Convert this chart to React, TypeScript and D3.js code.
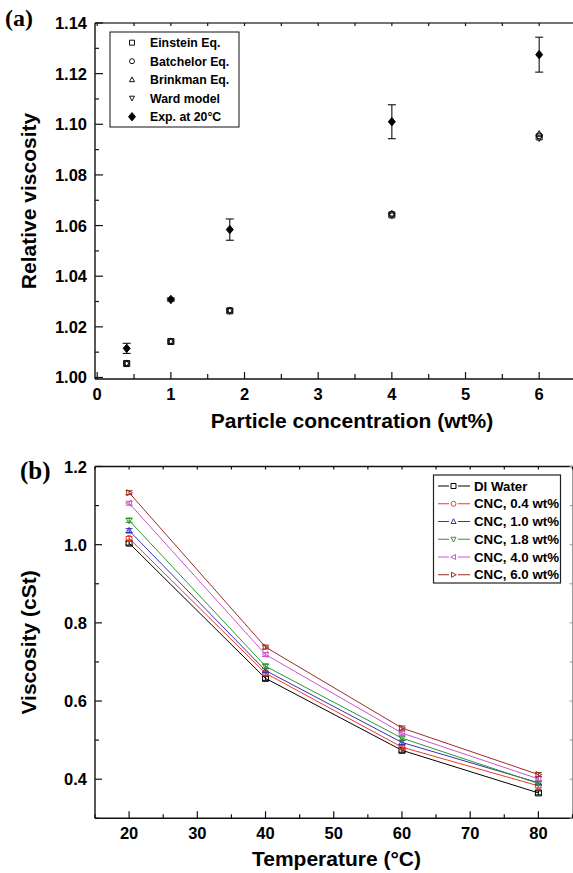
import React from "react";
import * as d3 from "d3";

// ---------- Panel (a) data ----------
const concentrations = [0.4, 1, 1.8, 4, 6];
const einsteinEq = [1.0055, 1.0142, 1.0263, 1.0642, 1.095];
const batchelorEq = [1.0056, 1.0143, 1.0265, 1.0645, 1.0955];
const brinkmanEq = [1.0056, 1.0143, 1.0265, 1.0647, 1.0962];
const wardModel = [1.0055, 1.0142, 1.0263, 1.064, 1.0945];
const expAt20 = [1.0115, 1.0308, 1.0584, 1.101, 1.1275];
const expErr = [0.002, 0.0006, 0.0042, 0.0067, 0.0069];
const legendA = ["Einstein Eq.", "Batchelor Eq.", "Brinkman Eq.", "Ward model", "Exp. at 20°C"];
const xTicksA = [0, 1, 2, 3, 4, 5, 6];
const yTicksA = [1.0, 1.02, 1.04, 1.06, 1.08, 1.1, 1.12, 1.14];

// ---------- Panel (b) data ----------
const temperatures = [20, 40, 60, 80];
const diWater = [1.004, 0.658, 0.474, 0.365];
const cnc04 = [1.016, 0.671, 0.482, 0.383];
const cnc10 = [1.036, 0.678, 0.494, 0.391];
const cnc18 = [1.062, 0.689, 0.505, 0.389];
const cnc40 = [1.106, 0.719, 0.518, 0.401];
const cnc60 = [1.133, 0.738, 0.531, 0.412];
const seriesNamesB = ["DI Water", "CNC, 0.4 wt%", "CNC, 1.0 wt%", "CNC, 1.8 wt%", "CNC, 4.0 wt%", "CNC, 6.0 wt%"];
const seriesColorsB = ["#000000", "#ee3a2a", "#3333b8", "#2f962f", "#cc55cc", "#9a2e24"];
const xTicksB = [20, 30, 40, 50, 60, 70, 80];
const yTicksB = [0.4, 0.6, 0.8, 1.0, 1.2];

const FONT = "'Liberation Sans', Arial, Helvetica, sans-serif";
const SERIF = "'Liberation Serif', 'Times New Roman', serif";

type Shape = "square" | "circle" | "up" | "down" | "left" | "right" | "diamond";

function markerPath(shape: Shape, s: number): string {
  const h = s / 2;
  switch (shape) {
    case "square":
      return `M${-h},${-h}H${h}V${h}H${-h}Z`;
    case "circle":
      return d3.symbol(d3.symbolCircle, Math.PI * h * h)() as string;
    case "up":
      return `M0,${-h * 1.1}L${h},${h * 0.8}L${-h},${h * 0.8}Z`;
    case "down":
      return `M0,${h * 1.1}L${h},${-h * 0.8}L${-h},${-h * 0.8}Z`;
    case "left":
      return `M${-h * 1.1},0L${h * 0.8},${-h}L${h * 0.8},${h}Z`;
    case "right":
      return `M${h * 1.1},0L${-h * 0.8},${-h}L${-h * 0.8},${h}Z`;
    case "diamond":
      return `M0,${-h * 1.2}L${h},0L0,${h * 1.2}L${-h},0Z`;
  }
}

function Marker({ x, y, shape, color, size, fill }: { x: number; y: number; shape: Shape; color: string; size: number; fill?: string }) {
  return (
    <path
      transform={`translate(${x},${y})`}
      d={markerPath(shape, size)}
      fill={fill ?? "white"}
      stroke={color}
      strokeWidth={1}
    />
  );
}

function PanelA() {
  const left = 95, right = 576, top = 23, bottom = 379;
  const x = d3.scaleLinear().domain([-0.03, 6.5]).range([left, right]);
  const y = d3.scaleLinear().domain([0.9994, 1.14]).range([bottom, top]);
  const xMinor = d3.range(0, 6.51, 0.5);
  const yMinor = d3.range(1.0, 1.1401, 0.01);
  const models: { vals: number[]; shape: Shape }[] = [
    { vals: einsteinEq, shape: "square" },
    { vals: batchelorEq, shape: "circle" },
    { vals: brinkmanEq, shape: "up" },
    { vals: wardModel, shape: "down" },
  ];
  const legendShapes: Shape[] = ["square", "circle", "up", "down", "diamond"];
  return (
    <g>
      <text x={5} y={26} fontFamily={SERIF} fontWeight="bold" fontSize={24}>(a)</text>
      <line x1={left} x2={right} y1={top} y2={top} stroke="#444" strokeWidth={1.4} />
      <line x1={left} x2={right} y1={bottom} y2={bottom} stroke="#111" strokeWidth={1.4} />
      <line x1={left} x2={left} y1={top} y2={bottom} stroke="#111" strokeWidth={1.4} />
      {xMinor.map((v, i) => {
        const major = Math.abs(v - Math.round(v)) < 1e-6;
        const len = major ? 7 : 5;
        return (
          <g key={"xt" + i}>
            <line x1={x(v)} x2={x(v)} y1={bottom} y2={bottom - len} stroke="#111" strokeWidth={1.2} />
            <line x1={x(v)} x2={x(v)} y1={top} y2={top + 3} stroke="#111" strokeWidth={1.2} />
          </g>
        );
      })}
      {xTicksA.map((v) => (
        <text key={"xl" + v} x={x(v)} y={400} textAnchor="middle" fontFamily={FONT} fontWeight="bold" fontSize={16.5}>{v}</text>
      ))}
      {yMinor.map((v, i) => {
        const major = i % 2 === 0;
        return <line key={"yt" + i} x1={left} x2={left + (major ? 8 : 4)} y1={y(v)} y2={y(v)} stroke="#111" strokeWidth={1.2} />;
      })}
      {yTicksA.map((v) => (
        <text key={"yl" + v} x={87} y={y(v) + 6} textAnchor="end" fontFamily={FONT} fontWeight="bold" fontSize={16.5}>{v.toFixed(2)}</text>
      ))}
      <text transform={`translate(36,${(top + bottom) / 2}) rotate(-90)`} textAnchor="middle" fontFamily={FONT} fontWeight="bold" fontSize={21}>Relative viscosity</text>
      <text x={352} y={428} textAnchor="middle" fontFamily={FONT} fontWeight="bold" fontSize={21}>Particle concentration (wt%)</text>
      {models.map((m, mi) =>
        m.vals.map((v, i) => (
          <Marker key={`m${mi}-${i}`} x={x(concentrations[i])} y={y(v)} shape={m.shape} color="#111" size={6} fill="none" />
        ))
      )}
      {expAt20.map((v, i) => {
        const cx = x(concentrations[i]);
        const y1 = y(v + expErr[i]);
        const y2 = y(v - expErr[i]);
        return (
          <g key={"e" + i}>
            <line x1={cx} x2={cx} y1={y1} y2={y2} stroke="#111" strokeWidth={1.1} />
            <line x1={cx - 4} x2={cx + 4} y1={y1} y2={y1} stroke="#111" strokeWidth={1.1} />
            <line x1={cx - 4} x2={cx + 4} y1={y2} y2={y2} stroke="#111" strokeWidth={1.1} />
            <Marker x={cx} y={y(v)} shape="diamond" color="#000" size={7} fill="#000" />
          </g>
        );
      })}
      <rect x={110} y={32} width={129} height={95} fill="white" stroke="#111" strokeWidth={1} />
      {legendA.map((name, i) => {
        const cy = 42.7 + i * 18.5;
        return (
          <g key={"la" + i}>
            <Marker x={132} y={cy} shape={legendShapes[i]} color="#111" size={i === 4 ? 7 : 5} fill={i === 4 ? "#000" : "none"} />
            <text x={150} y={cy + 4.5} fontFamily={FONT} fontWeight="bold" fontSize={12.3}>{name}</text>
          </g>
        );
      })}
    </g>
  );
}

function PanelB() {
  const left = 95, right = 572.5, top = 466.5, bottom = 818.3;
  const x = d3.scaleLinear().domain([15, 85]).range([left, right]);
  const y = d3.scaleLinear().domain([0.3, 1.2]).range([bottom, top]);
  const series = [diWater, cnc04, cnc10, cnc18, cnc40, cnc60];
  const shapes: Shape[] = ["square", "circle", "up", "down", "left", "right"];
  const xMinor = d3.range(15, 85.01, 5);
  const yMinor = d3.range(0.3, 1.2001, 0.1);
  const line = d3.line<[number, number]>().x((d) => x(d[0])).y((d) => y(d[1]));
  return (
    <g>
      <text x={20} y={479} fontFamily={SERIF} fontWeight="bold" fontSize={25}>(b)</text>
      <line x1={left} x2={right} y1={top} y2={top} stroke="#111" strokeWidth={1.4} />
      <line x1={left} x2={right} y1={bottom} y2={bottom} stroke="#111" strokeWidth={1.4} />
      <line x1={left} x2={left} y1={top} y2={bottom} stroke="#111" strokeWidth={1.4} />
      <line x1={right} x2={right} y1={top} y2={bottom} stroke="#999" strokeWidth={1} />
      {xMinor.map((v, i) => {
        const major = v % 10 === 0;
        return (
          <g key={"bxt" + i}>
            <line x1={x(v)} x2={x(v)} y1={bottom} y2={bottom - (major ? 7 : 4)} stroke="#111" strokeWidth={1.2} />
            <line x1={x(v)} x2={x(v)} y1={top} y2={top + 3} stroke="#111" strokeWidth={1.2} />
          </g>
        );
      })}
      {xTicksB.map((v) => (
        <text key={"bxl" + v} x={x(v)} y={839} textAnchor="middle" fontFamily={FONT} fontWeight="bold" fontSize={16.5}>{v}</text>
      ))}
      {yMinor.map((v, i) => {
        const major = Math.abs(Math.round(v * 10) % 2) === 0;
        return (
          <g key={"byt" + i}>
            <line x1={left} x2={left + (major ? 7 : 4)} y1={y(v)} y2={y(v)} stroke="#111" strokeWidth={1.2} />
            <line x1={right} x2={right - 3} y1={y(v)} y2={y(v)} stroke="#999" strokeWidth={1} />
          </g>
        );
      })}
      {yTicksB.map((v) => (
        <text key={"byl" + v} x={87} y={y(v) + 6} textAnchor="end" fontFamily={FONT} fontWeight="bold" fontSize={16.5}>{v.toFixed(1)}</text>
      ))}
      <text transform={`translate(36,${(top + bottom) / 2}) rotate(-90)`} textAnchor="middle" fontFamily={FONT} fontWeight="bold" fontSize={21}>Viscosity (cSt)</text>
      <text x={336.5} y={866} textAnchor="middle" fontFamily={FONT} fontWeight="bold" fontSize={21}>Temperature (°C)</text>
      {series.map((vals, si) => {
        const pts = temperatures.map((t, i) => [t, vals[i]] as [number, number]);
        const c = seriesColorsB[si];
        return (
          <g key={"s" + si}>
            <path d={line(pts) as string} fill="none" stroke={c} strokeWidth={1} />
            {pts.map((p, i) => {
              const cx = x(p[0]);
              const ya = y(p[1] + 0.005);
              const yb = y(p[1] - 0.005);
              return (
                <g key={"p" + i}>
                  <line x1={cx} x2={cx} y1={ya} y2={yb} stroke={c} strokeWidth={1} />
                  <line x1={cx - 3.5} x2={cx + 3.5} y1={ya} y2={ya} stroke={c} strokeWidth={1} />
                  <line x1={cx - 3.5} x2={cx + 3.5} y1={yb} y2={yb} stroke={c} strokeWidth={1} />
                  <Marker x={cx} y={y(p[1])} shape={shapes[si]} color={c} size={6} fill="none" />
                </g>
              );
            })}
          </g>
        );
      })}
      <rect x={433.5} y={475} width={127} height={108} fill="white" stroke="#222" strokeWidth={1.2} />
      {seriesNamesB.map((name, i) => {
        const cy = 486 + i * 17.75;
        const c = seriesColorsB[i];
        return (
          <g key={"lb" + i}>
            <line x1={438} x2={449} y1={cy} y2={cy} stroke={c} strokeWidth={1} />
            <line x1={458} x2={470} y1={cy} y2={cy} stroke={c} strokeWidth={1} />
            <Marker x={453.5} y={cy} shape={shapes[i]} color={c} size={5} fill="none" />
            <text x={474} y={cy + 4.5} fontFamily={FONT} fontWeight="bold" fontSize={13.3}>{name}</text>
          </g>
        );
      })}
    </g>
  );
}

export default function App() {
  return (
    <svg width={573} height={873} style={{ position: "absolute", left: 0, top: 0, background: "white" }}>
      <rect x={0} y={0} width={573} height={873} fill="white" />
      <PanelA />
      <PanelB />
    </svg>
  );
}
